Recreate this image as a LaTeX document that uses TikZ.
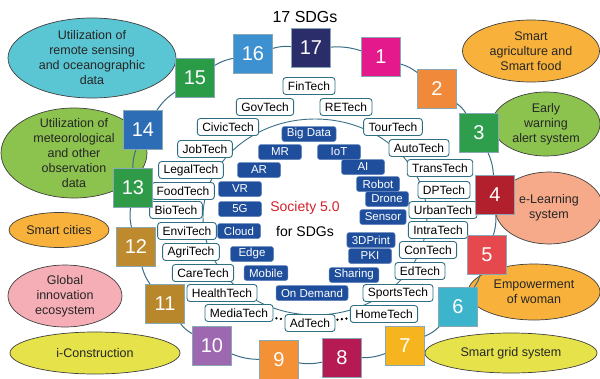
\documentclass[tikz,border=0pt]{standalone}
\usepackage{fontspec}
\setmainfont{Liberation Sans}
\usetikzlibrary{positioning,shapes.geometric}

\definecolor{ringline}{HTML}{3A6E85}
\definecolor{techline}{HTML}{2E6F82}
\definecolor{keyblue}{HTML}{1F4F9C}
\definecolor{socred}{HTML}{D3202C}
\definecolor{sdgA}{HTML}{E4198B}
\definecolor{sdgB}{HTML}{F08A3A}
\definecolor{sdgC}{HTML}{2E9D4C}
\definecolor{sdgD}{HTML}{B2202E}
\definecolor{sdgE}{HTML}{E5484D}
\definecolor{sdgF}{HTML}{3CB4CB}
\definecolor{sdgG}{HTML}{F6B51E}
\definecolor{sdgH}{HTML}{B51B52}
\definecolor{sdgI}{HTML}{F39136}
\definecolor{sdgJ}{HTML}{9D68B0}
\definecolor{sdgK}{HTML}{B8872C}
\definecolor{sdgL}{HTML}{BE8A2E}
\definecolor{sdgM}{HTML}{2F9B48}
\definecolor{sdgN}{HTML}{2C6DB5}
\definecolor{sdgO}{HTML}{2A9B47}
\definecolor{sdgP}{HTML}{3E91D0}
\definecolor{sdgQ}{HTML}{2B2D6B}
\definecolor{themecyan}{HTML}{5BC6D3}
\definecolor{themegreen}{HTML}{8CC34F}
\definecolor{themeorange}{HTML}{F8B13A}
\definecolor{themepink}{HTML}{F5AEB5}
\definecolor{themeyellow}{HTML}{E6E24A}
\definecolor{themesalmon}{HTML}{F6AA8A}

\tikzset{
  sdgbox/.style={draw=ringline!60!white, line width=0.8pt, minimum size=39pt, inner sep=0pt,
                 text=white, font=\fontsize{20}{20}\selectfont},
  techbox/.style={draw=techline, line width=0.9pt, rounded corners=3pt, fill=white,
                  minimum height=17pt, inner xsep=5pt, inner ysep=0pt, font=\fontsize{12}{12}\selectfont},
  keybox/.style={fill=keyblue, draw=keyblue!70!white, line width=0.5pt, rounded corners=2.5pt,
                 text=white, minimum width=43pt, minimum height=15pt, inner xsep=5pt, inner ysep=0pt,
                 font=\fontsize{11.5}{11.5}\selectfont},
  theme/.style={ellipse, draw=black!75, line width=0.7pt, inner sep=-4pt, align=center,
                text=black!85, font=\fontsize{12.5}{15}\selectfont},
  dots/.style={dash pattern=on 0pt off 4.5pt, line width=2.6pt, line cap=round}
}

\begin{document}
\begin{tikzpicture}[x=1pt, y=-1pt]
\useasboundingbox (0,0) rectangle (600,378);

\begin{scope}[every node/.style={theme}]
    \node[fill=themecyan, minimum width=168pt, minimum height=80pt] (remote) at (92,58) {Utilization of\\remote sensing\\and oceanographic\\data};
    \node[fill=themegreen, minimum width=146pt, minimum height=90pt, inner sep=-10pt] (meteo) at (74,153) {Utilization of\\meteorological\\and other\\observation\\data};
    \node[fill=themeorange, minimum width=100pt, minimum height=35pt] (cities) at (59,230) {Smart cities};
    \node[fill=themepink, minimum width=114pt, minimum height=62pt] (innov) at (65,296) {Global\\innovation\\ecosystem};
    \node[fill=themeyellow, minimum width=170pt, minimum height=42pt] (icons) at (95,353) {i-Construction};
    \node[fill=themeorange, minimum width=137pt, minimum height=62pt] (agri) at (531,51) {Smart\\agriculture and\\Smart food};
    \node[fill=themegreen, minimum width=108pt, minimum height=64pt] (warn) at (546,124) {Early\\warning\\alert system};
    \node[fill=themesalmon, minimum width=108pt, minimum height=72pt] (learn) at (549,208) {e-Learning\\system};
    \node[fill=themeorange, minimum width=132pt, minimum height=56pt] (woman) at (534,292) {Empowerment\\of woman};
    \node[fill=themeyellow, minimum width=172pt, minimum height=40pt] (grid) at (511,353) {Smart grid system};
\end{scope}

\draw[ringline, line width=0.9pt] (315,217) ellipse [x radius=112, y radius=98];

\node[font=\fontsize{16}{16}\selectfont] (title) at (305,17) {17 SDGs};
\node[text=socred, font=\fontsize{14}{14}\selectfont] (soc) at (305,208) {Society 5.0};
\node[below=5pt of soc, font=\fontsize{14}{14}\selectfont] (forsdg) {for SDGs};

\begin{scope}[every node/.style={techbox}]
    \node (fin) at (309,86) {FinTech};
    \node (gov) at (265,107) {GovTech};
    \node (re) at (346,107) {RETech};
    \node (civic) at (228,127) {CivicTech};
    \node (tour) at (393,127) {TourTech};
    \node (job) at (205,149) {JobTech};
    \node (auto) at (419,148) {AutoTech};
    \node (legal) at (191,170) {LegalTech};
    \node (trans) at (440,168) {TransTech};
    \node (food) at (183,191) {FoodTech};
    \node (dp) at (444,190) {DPTech};
    \node (bio) at (176,210) {BioTech};
    \node (urban) at (443,210) {UrbanTech};
    \node (envi) at (187,231) {EnviTech};
    \node (intra) at (438,230) {IntraTech};
    \node (agrit) at (191,252) {AgriTech};
    \node (con) at (428,250) {ConTech};
    \node (care) at (203,273) {CareTech};
    \node (ed) at (420,271) {EdTech};
    \node (health) at (222,293) {HealthTech};
    \node (sports) at (398,293) {SportsTech};
    \node (media) at (239,313) {MediaTech};
    \node (home) at (384,314) {HomeTech};
    \node (ad) at (310,323) {AdTech};
\end{scope}

\path (media) edge[dots, shorten <=3pt, shorten >=2pt] (ad);
\path (ad) edge[dots, shorten <=2pt, shorten >=3pt] (home);

\begin{scope}[every node/.style={keybox}]
    \node (bigdata) at (309,134) {Big Data};
    \node (mr) at (280,152) {MR};
    \node (iot) at (339,152) {IoT};
    \node (ar) at (259,170) {AR};
    \node (ai) at (363,167) {AI};
    \node (robot) at (378,184) {Robot};
    \node (vr) at (240,189) {VR};
    \node (drone) at (387,199) {Drone};
    \node (fiveg) at (240,209) {5G};
    \node (sensor) at (383,217) {Sensor};
    \node (cloud) at (239,231) {Cloud};
    \node (print) at (371,240) {3DPrint};
    \node (edge) at (252,254) {Edge};
    \node (pki) at (370,256) {PKI};
    \node (mobile) at (266,273) {Mobile};
    \node (sharing) at (354,275) {Sharing};
    \node (demand) at (312,293) {On Demand};
\end{scope}

\begin{scope}[every node/.style={sdgbox}]
    \node[fill=sdgA] (s1) at (381,57) {1};
    \node[fill=sdgB] (s2) at (437,89) {2};
    \node[fill=sdgC] (s3) at (479,133) {3};
    \node[fill=sdgD] (s4) at (495,195) {4};
    \node[fill=sdgE] (s5) at (487,255) {5};
    \node[fill=sdgF] (s6) at (458,307) {6};
    \node[fill=sdgG] (s7) at (405,346) {7};
    \node[fill=sdgH] (s8) at (342,358) {8};
    \node[fill=sdgI] (s9) at (279,360) {9};
    \node[fill=sdgJ] (s10) at (212,346) {10};
    \node[fill=sdgK] (s11) at (165,304) {11};
    \node[fill=sdgL] (s12) at (136,247) {12};
    \node[fill=sdgM] (s13) at (133,188) {13};
    \node[fill=sdgN] (s14) at (143,130) {14};
    \node[fill=sdgO] (s15) at (195,78) {15};
    \node[fill=sdgP] (s16) at (253,54) {16};
    \node[fill=sdgQ] (s17) at (311,48) {17};
\end{scope}

\begin{scope}[every edge/.style={draw=ringline, line width=1pt}]
    \path (s1) edge[bend left=10] (s2);
    \path (s2) edge[bend left=10] (s3);
    \path (s3) edge[bend left=10] (s4);
    \path (s4) edge[bend left=10] (s5);
    \path (s5) edge[bend left=10] (s6);
    \path (s6) edge[bend left=10] (s7);
    \path (s7) edge[bend left=10] (s8);
    \path (s8) edge[bend left=10] (s9);
    \path (s9) edge[bend left=10] (s10);
    \path (s10) edge[bend left=10] (s11);
    \path (s11) edge[bend left=10] (s12);
    \path (s12) edge[bend left=10] (s13);
    \path (s13) edge[bend left=10] (s14);
    \path (s14) edge[bend left=10] (s15);
    \path (s15) edge[bend left=10] (s16);
    \path (s16) edge[bend left=10] (s17);
    \path (s17) edge[bend left=10] (s1);
\end{scope}
\end{tikzpicture}
\end{document}
